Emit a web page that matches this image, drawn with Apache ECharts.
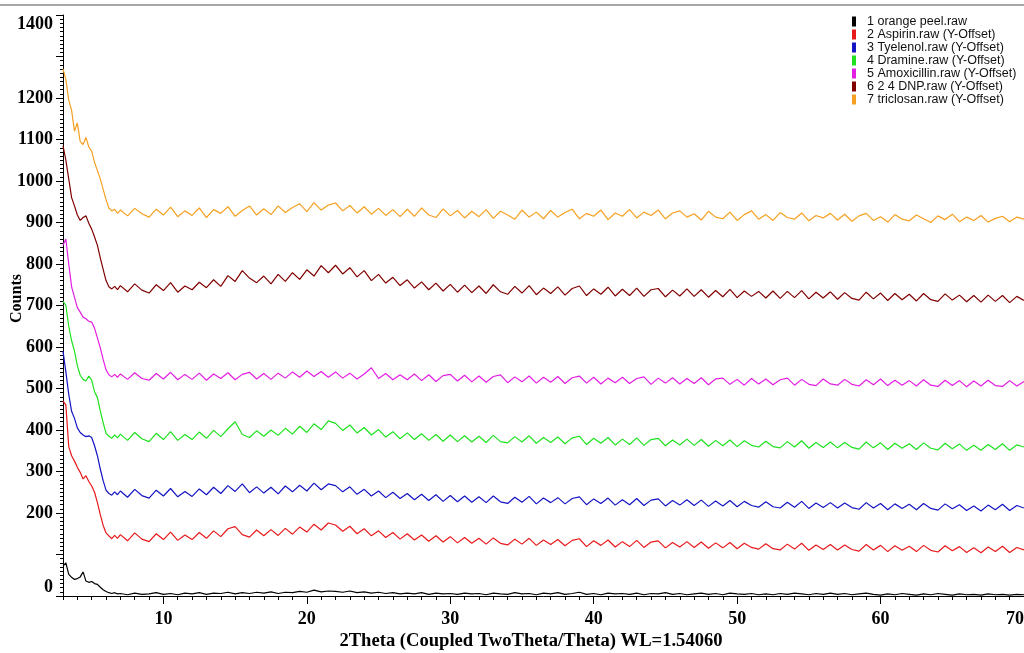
<!DOCTYPE html>
<html>
<head>
<meta charset="utf-8">
<script src="https://cdn.jsdelivr.net/npm/echarts@6/dist/echarts.min.js"></script>
<style>
    html, body { margin: 0; padding: 0; background: #fff; }
    #xrd_chart { width: 1024px; height: 653px; }
</style>
</head>
<body>
<div id="xrd_chart"></div>
<script>
    // 2theta positions (deg)
    var twoTheta = [
        3.0,3.2,3.4,3.6,3.8,4.0,4.2,4.4,4.6,4.8,5.0,5.2,5.4,5.6,5.8,6.0,6.2,6.4,6.6,6.8,
        7,7.5,8,8.5,9,9.5,10,10.5,11,11.5,
        12,12.5,13,13.5,14,14.5,15,15.5,16,16.5,
        17,17.5,18,18.5,19,19.5,20,20.5,21,21.5,
        22,22.5,23,23.5,24,24.5,25,25.5,26,26.5,
        27,27.5,28,28.5,29,29.5,30,30.5,31,31.5,
        32,32.5,33,33.5,34,34.5,35,35.5,36,36.5,
        37,37.5,38,38.5,39,39.5,40,40.5,41,41.5,
        42,42.5,43,43.5,44,44.5,45,45.5,46,46.5,
        47,47.5,48,48.5,49,49.5,50,50.5,51,51.5,
        52,52.5,53,53.5,54,54.5,55,55.5,56,56.5,
        57,57.5,58,58.5,59,59.5,60,60.5,61,61.5,
        62,62.5,63,63.5,64,64.5,65,65.5,66,66.5,
        67,67.5,68,68.5,69,69.5,70
    ];

    var orangePeel = [
        72,80,52,45,40,42,46,58,36,33,35,30,28,21,15,11,8,6,8,5,
        6,3,7,4,5,8,4,6,3,7,
        5,8,4,7,6,9,5,8,6,9,
        7,10,6,9,8,11,9,14,10,12,
        11,9,12,8,10,7,9,6,8,5,
        7,5,8,4,7,5,6,4,7,5,
        6,3,7,5,4,8,5,6,3,7,
        5,8,4,6,9,4,6,3,7,5,
        6,4,7,3,6,5,8,4,6,3,
        5,7,4,6,3,7,5,4,6,3,
        5,3,6,4,7,5,3,6,4,7,
        4,6,3,5,7,4,2,5,3,6,
        4,2,5,3,6,4,2,5,3,4,
        2,5,3,4,2,4,3
    ];

    var aspirin = [
        470,460,360,338,325,310,298,282,290,276,265,250,225,196,170,152,145,138,146,139,
        148,133,152,137,131,150,136,154,134,147,
        136,153,139,157,143,162,167,148,142,159,
        145,160,146,163,149,166,154,173,159,176,
        171,156,168,150,162,145,157,141,153,137,
        150,135,147,132,145,130,143,128,141,127,
        139,125,140,127,123,137,125,139,122,135,
        124,136,121,134,138,119,133,122,135,118,
        131,119,134,117,130,133,116,129,118,131,
        117,130,115,128,116,129,114,127,117,113,
        126,114,111,125,113,127,110,123,112,124,
        111,123,112,108,124,111,122,107,121,110,
        120,107,122,110,106,121,109,119,105,116,
        104,118,107,120,105,117,111
    ];

    var tyelenol = [
        590,540,486,445,428,405,394,388,384,386,382,362,338,306,278,255,247,243,251,244,
        253,238,257,242,236,255,241,259,239,252,
        240,258,244,262,247,266,252,270,249,263,
        248,262,246,265,251,267,253,272,256,270,
        266,251,263,245,257,241,253,237,250,235,
        247,232,245,230,244,228,242,227,241,226,
        239,225,241,227,223,238,226,240,222,236,
        225,237,222,235,239,220,234,223,236,219,
        232,220,235,218,231,234,217,230,219,232,
        218,231,216,229,217,230,215,228,218,214,
        227,215,212,226,214,228,211,224,213,225,
        212,224,213,209,225,212,223,208,222,211,
        221,208,223,211,207,222,210,220,206,217,
        205,219,208,221,206,218,212
    ];

    var dramine = [
        710,700,650,615,590,555,532,522,518,530,520,492,478,446,418,392,385,380,388,381,
        390,375,394,379,372,392,377,396,375,389,
        377,395,380,399,384,403,420,389,382,398,
        385,400,387,404,390,409,394,415,401,422,
        416,399,412,393,406,388,401,383,396,379,
        393,377,391,375,389,373,388,372,386,371,
        385,370,387,372,369,384,371,386,368,382,
        370,383,367,381,385,365,380,368,382,364,
        378,365,381,363,377,380,362,376,364,378,
        363,377,361,375,362,376,360,374,363,359,
        373,360,357,372,359,374,356,370,358,371,
        357,370,358,354,371,357,369,353,368,356,
        367,353,369,356,352,368,355,366,351,363,
        351,365,353,367,351,364,359
    ];

    var amoxicillin = [
        845,860,800,745,720,695,684,672,668,662,660,645,622,598,570,545,533,528,534,527,
        535,522,538,524,520,536,523,539,521,534,
        522,537,520,535,524,538,521,534,539,523,
        536,522,537,525,540,527,542,529,541,527,
        540,525,537,523,535,550,524,536,521,533,
        521,535,519,533,517,531,534,518,532,516,
        530,515,529,533,514,528,516,530,513,527,
        515,529,512,526,530,513,527,511,525,514,
        527,512,524,528,510,525,513,526,511,524,
        512,526,509,523,525,510,522,508,524,511,
        523,509,521,525,508,522,510,507,523,511,
        508,522,510,506,521,509,523,507,520,508,
        519,506,521,508,505,520,507,519,504,518,
        506,520,507,505,519,506,517
    ];

    var dnp = [
        1085,1050,1005,960,940,918,905,912,916,898,884,865,845,815,787,760,745,740,746,738,
        748,733,752,737,730,750,736,755,732,747,
        738,756,743,762,746,772,758,784,766,755,
        771,752,775,758,779,763,786,771,796,779,
        797,776,791,769,784,760,775,754,768,748,
        762,742,757,738,754,735,751,732,749,731,
        747,729,750,733,727,746,730,748,726,742,
        729,745,725,741,747,724,740,727,744,723,
        739,724,742,722,738,741,721,737,723,740,
        722,738,720,736,721,739,719,735,722,734,
        718,735,717,734,719,736,716,732,718,733,
        715,731,717,713,732,716,730,712,729,714,
        727,711,729,714,710,728,713,725,709,724,
        708,725,710,724,707,722,712
    ];

    var triclosan = [
        1270,1245,1195,1170,1120,1140,1095,1088,1105,1082,1072,1045,1025,1005,980,955,935,928,932,922,
        930,916,934,921,913,932,918,937,914,928,
        917,935,912,931,922,938,915,929,940,918,
        933,919,940,924,936,945,926,948,930,942,
        947,928,941,923,938,920,934,917,931,914,
        932,915,935,918,912,933,916,929,911,927,
        914,931,910,927,918,908,930,913,925,909,
        929,913,924,932,909,922,915,930,907,923,
        915,931,911,925,917,930,909,923,928,913,
        921,906,927,913,909,925,905,919,928,908,
        919,905,924,912,908,923,904,917,911,922,
        906,920,903,916,922,905,914,901,919,908,
        904,918,909,900,916,907,920,902,913,905,
        917,901,910,915,902,913,908
    ];

    var seriesNames = [
        '1 orange peel.raw',
        '2 Aspirin.raw (Y-Offset)',
        '3 Tyelenol.raw (Y-Offset)',
        '4 Dramine.raw (Y-Offset)',
        '5 Amoxicillin.raw (Y-Offset)',
        '6 2 4 DNP.raw (Y-Offset)',
        '7 triclosan.raw (Y-Offset)'
    ];
    var seriesValues = [orangePeel, aspirin, tyelenol, dramine, amoxicillin, dnp, triclosan];
    var seriesColors = ['#000000', '#e8191b', '#1414c4', '#1ee21e', '#e21ee2', '#800000', '#f5a020'];

    var xLabelValues = [10, 20, 30, 40, 50, 60, 70];
    var yHiddenLabels = [100, 1300];

    var serif = '"Liberation Serif", "Times New Roman", serif';

    var xrdChart = echarts.init(document.getElementById('xrd_chart'));

    var series = [];
    for (var s = 0; s < seriesValues.length; s++) {
        var pts = [];
        for (var i = 0; i < twoTheta.length; i++) {
            pts.push([twoTheta[i], seriesValues[s][i]]);
        }
        series.push({
            name: seriesNames[s],
            type: 'line',
            data: pts,
            color: seriesColors[s],
            showSymbol: false,
            lineStyle: { width: 1.2 }
        });
    }

    option = {
        animation: false,
        backgroundColor: '#fff',
        grid: { left: 63, right: 0, top: 15, bottom: 57, outerBoundsMode: 'none' },
        legend: {
            data: seriesNames,
            orient: 'vertical',
            left: 852,
            top: 15,
            padding: 0,
            itemGap: 0,
            itemWidth: 4,
            itemHeight: 10,
            icon: 'rect',
            textStyle: {
                fontFamily: '"Liberation Sans", Arial, sans-serif',
                fontSize: 12.5,
                lineHeight: 13,
                color: '#111',
                padding: [0, 0, 0, 6]
            }
        },
        xAxis: [{
            type: 'value',
            min: 3,
            max: 70,
            interval: 1,
            name: '2Theta (Coupled TwoTheta/Theta) WL=1.54060',
            nameLocation: 'middle',
            nameGap: 36,
            nameMoveOverlap: false,
            nameTextStyle: {
                fontFamily: serif, fontWeight: 'bold', fontSize: 18.6, color: '#000',
                padding: [0, 25, 0, 0]
            },
            axisLine: { lineStyle: { color: '#000', width: 1 } },
            axisTick: { length: 4, lineStyle: { color: '#000' } },
            splitLine: { show: false },
            axisLabel: {
                margin: 14,
                fontFamily: serif, fontWeight: 'bold', fontSize: 18, color: '#000',
                alignMaxLabel: 'right',
                formatter: function (v) {
                    return xLabelValues.indexOf(v) >= 0 ? String(v) : '';
                }
            }
        }, {
            // longer ticks at the labelled positions
            type: 'value',
            min: 3,
            max: 70,
            position: 'bottom',
            axisLine: { show: false },
            axisLabel: { show: false },
            splitLine: { show: false },
            axisTick: { length: 8, customValues: xLabelValues, lineStyle: { color: '#000' } }
        }],
        yAxis: {
            type: 'value',
            min: 0,
            max: 1400,
            interval: 100,
            name: 'Counts',
            nameLocation: 'middle',
            nameRotate: 90,
            nameGap: 38,
            nameMoveOverlap: false,
            nameTextStyle: {
                fontFamily: serif, fontWeight: 'bold', fontSize: 16, color: '#000',
                padding: [0, 0, 0, 14]
            },
            axisLine: { show: true, lineStyle: { color: '#000', width: 1 } },
            axisTick: { show: true, length: 7, lineStyle: { color: '#000' } },
            minorTick: { show: true, splitNumber: 10, length: 3, lineStyle: { color: '#000' } },
            splitLine: { show: false },
            axisLabel: {
                margin: 10,
                fontFamily: serif, fontWeight: 'bold', fontSize: 18, color: '#000',
                verticalAlignMinLabel: 'bottom',
                verticalAlignMaxLabel: 'top',
                formatter: function (v) {
                    return yHiddenLabels.indexOf(v) >= 0 ? '' : String(v);
                }
            }
        },
        graphic: [{
            type: 'line',
            shape: { x1: 0, y1: 5, x2: 1024, y2: 5 },
            style: { stroke: '#8a8a8a', lineWidth: 1.5 }
        }],
        series: series
    };

    xrdChart.setOption(option);
</script>
</body>
</html>
